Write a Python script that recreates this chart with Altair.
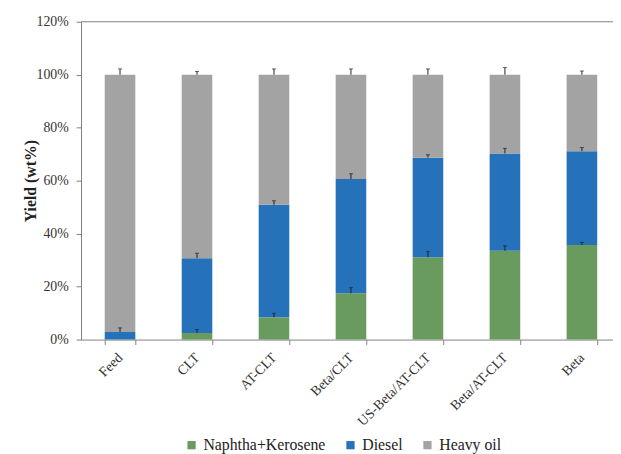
import altair as alt
import pandas as pd

categories = ["Feed", "CLT", "AT-CLT", "Beta/CLT", "US-Beta/AT-CLT", "Beta/AT-CLT", "Beta"]
components = ["Naphtha+Kerosene", "Diesel", "Heavy oil"]
naphtha = [0.0, 2.5, 8.4, 17.5, 31.1, 33.5, 35.7]
diesel = [2.9, 28.2, 42.5, 43.1, 37.6, 36.8, 35.4]
heavy = [97.1, 69.3, 49.1, 39.4, 31.3, 29.7, 28.9]
err_naphtha = [0.0, 1.3, 1.5, 2.1, 2.1, 1.9, 1.0]
err_diesel = [1.5, 1.9, 1.5, 2.0, 1.1, 1.9, 1.4]
err_heavy = [2.2, 1.2, 2.2, 2.2, 2.2, 2.7, 1.4]
colors = ["#6a9b5e", "#2672ba", "#a3a3a3"]

rows = []
for i, c in enumerate(categories):
    base = 0.0
    for comp, vals, errs in zip(components, [naphtha, diesel, heavy], [err_naphtha, err_diesel, err_heavy]):
        v = vals[i]
        top = base + v
        rows.append({"cat": c, "comp": comp, "order": components.index(comp),
                     "y0": base / 100, "y1": top / 100,
                     "e1": (top + errs[i]) / 100, "has_err": errs[i] > 0 and v > 0})
        base = top
df = pd.DataFrame(rows)

FONT = "'Liberation Serif', 'Times New Roman', serif"

xscale = alt.Scale(domain=categories, paddingInner=0.602564, paddingOuter=0.25641, align=0.6)
yscale = alt.Scale(domain=[0, 1.2], nice=False)

bars = alt.Chart(df).mark_bar().encode(
    x=alt.X("cat:N", scale=xscale, sort=categories,
            axis=alt.Axis(title=None, labelAngle=-45, labelAlign="right", labelBaseline="middle",
                          labelFont=FONT, labelFontSize=14, labelColor="#333333",
                          domainColor="#808080", tickColor="#808080", tickSize=5,
                          tickBand="extent", labelPadding=11)),
    y=alt.Y("y0:Q", scale=yscale,
            axis=alt.Axis(title="Yield (wt%)", format=".0%", values=[0, 0.2, 0.4, 0.6, 0.8, 1.0, 1.2],
                          grid=False, labelFont=FONT, labelFontSize=14, labelColor="#333333",
                          domainColor="#808080", tickColor="#808080", tickSize=5, labelPadding=8,
                          titleFont=FONT, titleFontSize=16, titleFontWeight="bold", titleColor="#222222",
                          titleX=-51, titleY=161, titleAngle=-90, titleAlign="center",
                          titleBaseline="middle")),
    y2="y1:Q",
    color=alt.Color("comp:N", scale=alt.Scale(domain=components, range=colors),
                    legend=alt.Legend(title=None, orient="none", direction="horizontal",
                                      legendX=104, legendY=421, symbolType="square", symbolSize=70,
                                      symbolStrokeWidth=0, labelFont=FONT, labelFontSize=16,
                                      labelColor="#222222", columnPadding=17, labelOffset=4,
                                      symbolOpacity=1)),
    order=alt.Order("order:Q"),
)

errdf = df[df["has_err"]]
rules = alt.Chart(errdf).mark_rule(color="#222222", strokeWidth=1).encode(
    x=alt.X("cat:N", scale=xscale, sort=categories),
    y=alt.Y("y1:Q", scale=yscale),
    y2="e1:Q",
)
caps = alt.Chart(errdf).mark_tick(color="#222222", thickness=1, size=4, orient="horizontal").encode(
    x=alt.X("cat:N", scale=xscale, sort=categories),
    y=alt.Y("e1:Q", scale=yscale),
)
top_line = alt.Chart(pd.DataFrame({"v": [1.2]})).mark_rule(color="#808080", strokeWidth=1).encode(
    y=alt.Y("v:Q", scale=yscale),
)

chart = alt.layer(bars, rules, caps, top_line).properties(
    width=539, height=322,
    autosize=alt.AutoSizeParams(type="none"),
    padding={"left": 74, "top": 11, "right": 0, "bottom": 113},
).configure_view(stroke=None)

chart.save("out.html", embed_options={"renderer": "svg", "actions": False})
